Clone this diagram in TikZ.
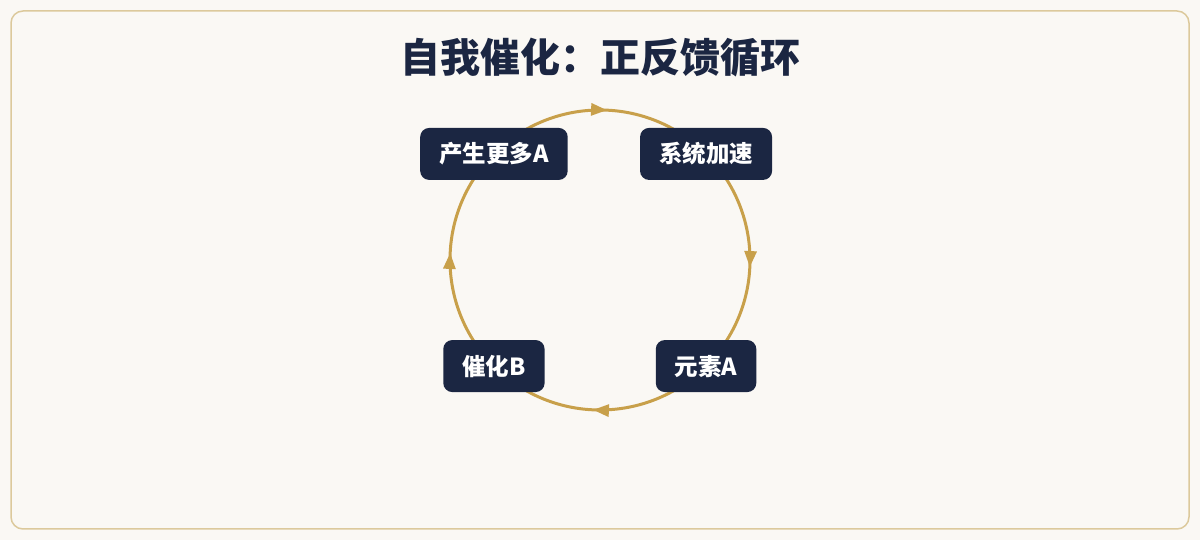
\documentclass[tikz,border=0pt]{standalone}
\usepackage{fontspec}
\setmainfont{Noto Sans CJK SC}
\usetikzlibrary{calc,arrows.meta,decorations.markings}
\definecolor{navy}{HTML}{1B2642}
\definecolor{gold}{HTML}{C8A04A}
\definecolor{frame}{HTML}{DCC99C}
\definecolor{paper}{HTML}{FAF8F4}
\pgfdeclarelayer{back}
\pgfdeclarelayer{ring}
\pgfsetlayers{back,ring,main}
\begin{document}
\begin{tikzpicture}[x=1pt,y=1pt,
  box/.style={fill=navy, text=white, rounded corners=9pt, minimum height=52pt,
    inner xsep=19pt, font=\fontsize{23.5}{27}\selectfont\bfseries},
  loop/.style={gold, line width=3pt, postaction={decorate},
    decoration={markings, mark=at position 0.53 with {\arrow{Triangle[length=16pt,width=12pt]}}}}]
\useasboundingbox (0,0) rectangle (1200,540);
\begin{pgfonlayer}{back}
\fill[paper] (0,0) rectangle (1200,540);
\draw[frame, line width=1.5pt, fill=paper, rounded corners=12pt] (11,11) rectangle (1189,529);
\end{pgfonlayer}

\node[text=navy, font=\fontsize{40}{48}\selectfont\bfseries] (title) at (600,482) {自我催化：正反馈循环};

\coordinate (c) at (600,280);
\node[box] (more) at ($(c)+(135:150)$) {产生更多A};
\node[box] (speed) at ($(c)+(45:150)$) {系统加速};
\node[box] (elemA) at ($(c)+(-45:150)$) {元素A};
\node[box] (catB) at ($(c)+(-135:150)$) {催化B};

\begin{pgfonlayer}{ring}
\draw[loop] (more.center) arc[start angle=135, end angle=45, radius=150];
\draw[loop] (speed.center) arc[start angle=45, end angle=-45, radius=150];
\draw[loop] (elemA.center) arc[start angle=-45, end angle=-135, radius=150];
\draw[loop] (catB.center) arc[start angle=-135, end angle=-225, radius=150];
\end{pgfonlayer}
\end{tikzpicture}
\end{document}
